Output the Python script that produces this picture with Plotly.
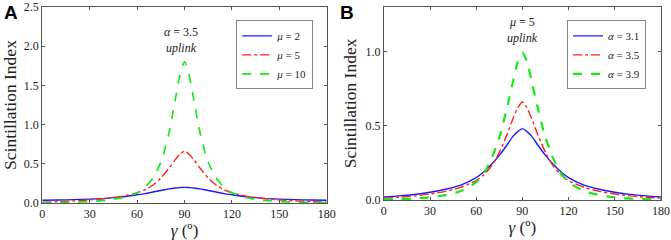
import plotly.graph_objects as go

gamma = [0, 10, 20, 30, 40, 50, 60, 65, 70, 75, 80, 84, 87, 90, 93, 96, 100, 105, 110, 115, 120, 130, 140, 150, 160, 170, 180]

# Panel A: alpha = 3.5, uplink
a_mu2 = [0.035, 0.038, 0.043, 0.050, 0.060, 0.078, 0.105, 0.120, 0.140, 0.160, 0.180, 0.192, 0.197, 0.200, 0.197, 0.192, 0.180, 0.160, 0.140, 0.120, 0.105, 0.078, 0.060, 0.050, 0.043, 0.038, 0.035]
a_mu5 = [0.012, 0.018, 0.027, 0.040, 0.058, 0.085, 0.130, 0.170, 0.230, 0.320, 0.440, 0.550, 0.620, 0.660, 0.620, 0.550, 0.440, 0.320, 0.230, 0.170, 0.130, 0.085, 0.058, 0.040, 0.027, 0.018, 0.012]
a_mu10 = [0.004, 0.006, 0.010, 0.020, 0.035, 0.065, 0.130, 0.200, 0.320, 0.520, 0.880, 1.300, 1.620, 1.800, 1.620, 1.300, 0.880, 0.520, 0.320, 0.200, 0.130, 0.065, 0.035, 0.020, 0.010, 0.006, 0.004]

# Panel B: mu = 5, uplink
b_a31 = [0.020, 0.027, 0.037, 0.052, 0.072, 0.100, 0.150, 0.190, 0.240, 0.300, 0.370, 0.430, 0.460, 0.480, 0.460, 0.430, 0.370, 0.300, 0.240, 0.190, 0.150, 0.100, 0.072, 0.052, 0.037, 0.027, 0.020]
b_a35 = [0.012, 0.018, 0.027, 0.040, 0.058, 0.085, 0.130, 0.170, 0.230, 0.320, 0.440, 0.550, 0.620, 0.660, 0.620, 0.550, 0.440, 0.320, 0.230, 0.170, 0.130, 0.085, 0.058, 0.040, 0.027, 0.018, 0.012]
b_a39 = [0.003, 0.005, 0.009, 0.018, 0.032, 0.060, 0.120, 0.180, 0.280, 0.420, 0.620, 0.800, 0.930, 0.990, 0.930, 0.800, 0.620, 0.420, 0.280, 0.180, 0.120, 0.060, 0.032, 0.018, 0.009, 0.005, 0.003]

x_ticks = [0, 30, 60, 90, 120, 150, 180]
a_yticks = [0.0, 0.5, 1.0, 1.5, 2.0, 2.5]
b_yticks = [0.0, 0.5, 1.0]

SERIF = "Times New Roman, Liberation Serif, serif"
BLUE, RED, GREEN = "#1a1aff", "#ff2020", "#18e818"

fig = go.Figure()

def add(x, y, name, color, dash, xa, ya, legend, width=1.4):
    fig.add_trace(go.Scatter(x=x, y=y, name=name, mode="lines",
                             line=dict(color=color, dash=dash, width=width, shape="spline", smoothing=0.8),
                             xaxis=xa, yaxis=ya, legend=legend))

add(gamma, a_mu2, "<i>μ</i> = 2", BLUE, "solid", "x", "y", "legend")
add(gamma, a_mu5, "<i>μ</i> = 5", RED, "dashdot", "x", "y", "legend")
add(gamma, a_mu10, "<i>μ</i> = 10", GREEN, "dash", "x", "y", "legend", 1.7)

add(gamma, b_a31, "<i>α</i> = 3.1", BLUE, "solid", "x2", "y2", "legend2")
add(gamma, b_a35, "<i>α</i> = 3.5", RED, "dashdot", "x2", "y2", "legend2")
add(gamma, b_a39, "<i>α</i> = 3.9", GREEN, "dash", "x2", "y2", "legend2", 2.2)

axis_common = dict(showline=True, linecolor="#555", linewidth=1, mirror="ticks",
                   ticks="inside", ticklen=3, tickcolor="#555", showgrid=False, zeroline=False,
                   automargin=False, tickfont=dict(family=SERIF, size=12, color="#222"))

xtitle = dict(text="<i>γ</i> (º)", font=dict(family=SERIF, size=17, color="#222"), standoff=1)
ytitle = dict(text="Scintillation Index", font=dict(family=SERIF, size=17.5, color="#222"), standoff=4)

fig.update_layout(
    width=671, height=240, margin=dict(l=0, r=0, t=0, b=0, autoexpand=False),
    paper_bgcolor="white", plot_bgcolor="white", showlegend=True,
    xaxis=dict(domain=[0.063, 0.487], range=[0, 180], tickvals=x_ticks, anchor="y", title=xtitle, **axis_common),
    yaxis=dict(domain=[0.154, 0.971], range=[0, 2.5], tickvals=a_yticks, tickformat=".1f", anchor="x", title=ytitle, **axis_common),
    xaxis2=dict(domain=[0.572, 0.985], range=[0, 180], tickvals=x_ticks, anchor="y2", title=xtitle, **axis_common),
    yaxis2=dict(domain=[0.167, 0.971], range=[0, 1.3], tickvals=b_yticks, tickformat=".1f", anchor="x2", title=ytitle, **axis_common),
    legend=dict(x=0.352, y=0.915, xanchor="left", yanchor="top", xref="paper", yref="paper",
                bordercolor="#888", borderwidth=1, bgcolor="white",
                font=dict(family=SERIF, size=11, color="#222"), tracegroupgap=0, itemwidth=30),
    legend2=dict(x=0.845, y=0.915, xanchor="left", yanchor="top", xref="paper", yref="paper",
                 bordercolor="#888", borderwidth=1, bgcolor="white",
                 font=dict(family=SERIF, size=11, color="#222"), tracegroupgap=0, itemwidth=30),
)

ann_font = dict(family=SERIF, size=12, color="#222")
fig.add_annotation(x=88, y=2.18, xref="x", yref="y", text="<i>α</i> = 3.5", showarrow=False, font=ann_font)
fig.add_annotation(x=88, y=1.98, xref="x", yref="y", text="<i>uplink</i>", showarrow=False, font=ann_font)
fig.add_annotation(x=90, y=1.2, xref="x2", yref="y2", text="<i>μ</i> = 5", showarrow=False, font=ann_font)
fig.add_annotation(x=90, y=1.09, xref="x2", yref="y2", text="<i>uplink</i>", showarrow=False, font=ann_font)

fig.add_annotation(x=0.003, y=1.0, xref="paper", yref="paper", xanchor="left", yanchor="top", text="<b>A</b>",
                   showarrow=False, font=dict(family="Liberation Sans", size=19, color="black"))
fig.add_annotation(x=0.503, y=1.0, xref="paper", yref="paper", xanchor="left", yanchor="top", text="<b>B</b>",
                   showarrow=False, font=dict(family="Liberation Sans", size=19, color="black"))

fig.write_html("out.html", config={"displayModeBar": False},
               post_script="document.body.style.margin='0';document.body.style.padding='0';")
